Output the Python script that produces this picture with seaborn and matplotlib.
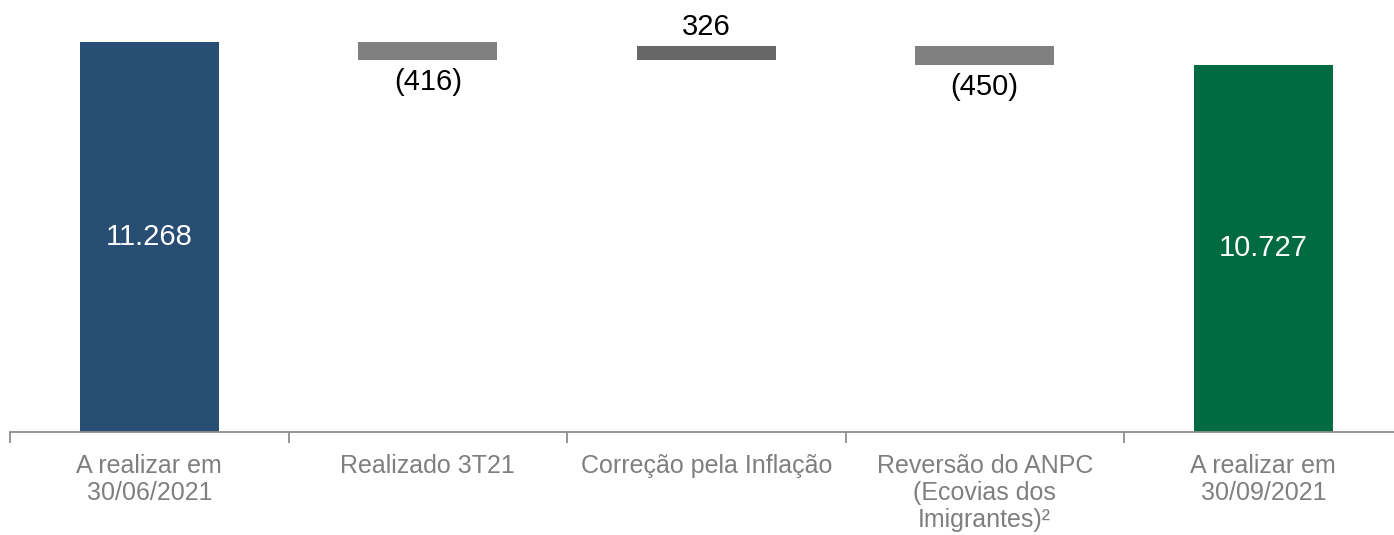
import matplotlib
matplotlib.use("Agg")
import matplotlib.pyplot as plt
import seaborn as sns
import pandas as pd
import numpy as np

categories = ["A realizar em\n30/06/2021", "Realizado 3T21", "Correção pela Inflação",
              "Reversão do ANPC\n(Ecovias dos\nImigrantes)²", "A realizar em\n30/09/2021"]
values = [11268, -416, 326, -450, 10727]
value_labels = ["11.268", "(416)", "326", "(450)", "10.727"]
kinds = ["total", "delta", "delta", "delta", "total"]
colors = ["#284e74", "#808080", "#676767", "#808080", "#006a40"]

AXIS_MIN = 2094

# waterfall geometry
bottoms, tops = [], []
running = 0
for v, k in zip(values, kinds):
    if k == "total":
        bottoms.append(AXIS_MIN)
        tops.append(v)
        running = v
    else:
        new = running + v
        bottoms.append(min(running, new))
        tops.append(max(running, new))
        running = new

df = pd.DataFrame({"cat": categories, "top": tops, "bottom": bottoms,
                   "height": np.array(tops) - np.array(bottoms)})

sns.set_theme(style="white")
plt.rcParams["font.family"] = ["Liberation Sans", "DejaVu Sans"]

fig = plt.figure(figsize=(13.94, 5.35), dpi=100)
ax = fig.add_axes([10/1394, (535-432)/535, 1392.5/1394, 432/535])

for i, row in df.iterrows():
    sns.barplot(x=[row["cat"]], y=[row["height"]], bottom=row["bottom"], order=categories,
                color=colors[i], width=0.5, ax=ax, saturation=1, edgecolor="none")

k = 23/541
ax.set_ylim(AXIS_MIN, AXIS_MIN + 432/k)
ax.set_xlim(-0.5, 4.5)

px = 1/k  # data units per pixel
for i, (lab, kd) in enumerate(zip(value_labels, kinds)):
    if kd == "total":
        ax.text(i, (tops[i] + AXIS_MIN) / 2, lab, ha="center", va="center",
                color="white", fontsize=21)
    elif values[i] < 0:
        ax.text(i, bottoms[i] - 8*px, lab, ha="center", va="top", color="black", fontsize=21)
    else:
        ax.text(i, tops[i] + 5*px, lab, ha="center", va="bottom", color="black", fontsize=21)

for s in ["top", "right", "left"]:
    ax.spines[s].set_visible(False)
ax.spines["bottom"].set_color("#8c8c8c")
ax.spines["bottom"].set_linewidth(1.3)
ax.spines["bottom"].set_zorder(5)
ax.set_yticks([])
ax.set_ylabel("")
ax.set_xlabel("")
ax.set_xticks(range(5))
ax.set_xticklabels(categories, fontsize=18, color="#7f7f7f", linespacing=1.16, va="top")
ax.tick_params(axis="x", length=0, pad=16)
ax.set_xticks([-0.5, 0.5, 1.5, 2.5, 3.5], minor=True)
ax.tick_params(axis="x", which="minor", length=8, width=1.3, color="#8c8c8c", direction="out", bottom=True)

fig.savefig("out.png", dpi=100)
